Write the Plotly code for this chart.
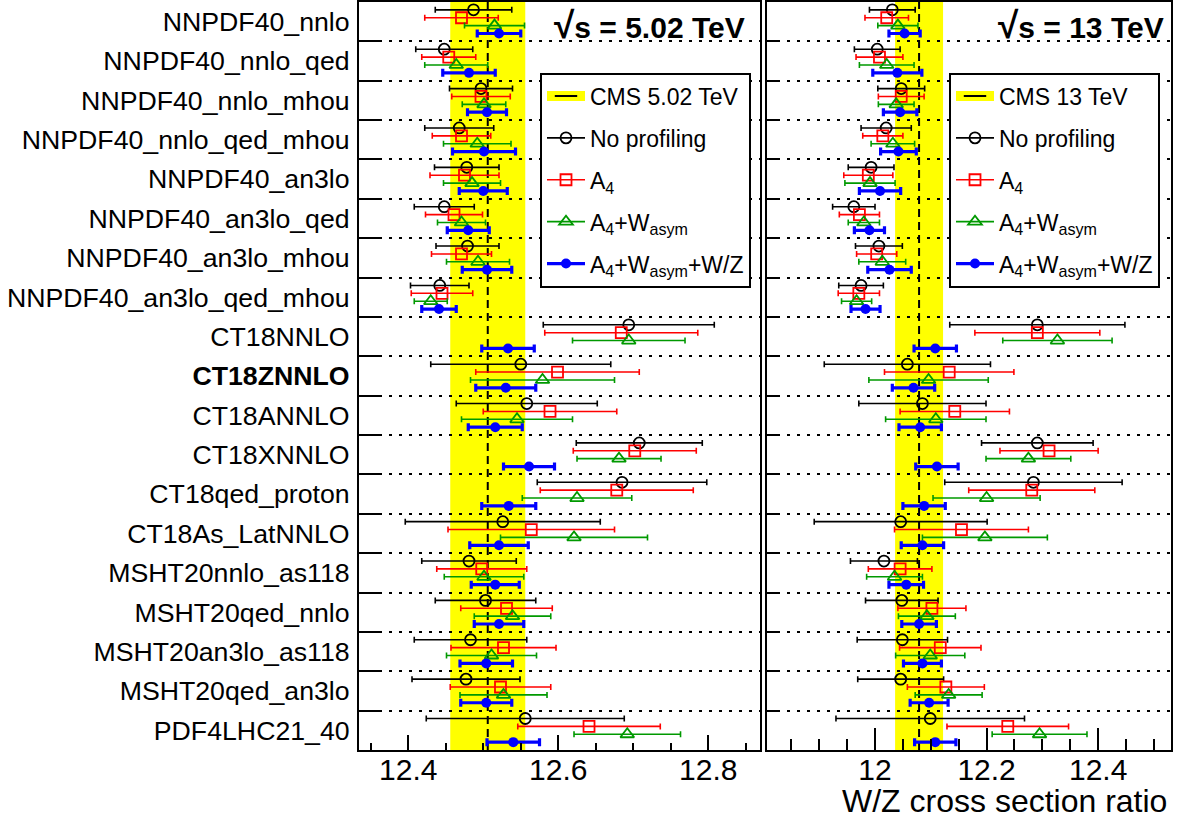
import numpy as np
import plotly.graph_objects as go

# ---------------- data ----------------
pdf_sets = ["NNPDF40_nnlo", "NNPDF40_nnlo_qed", "NNPDF40_nnlo_mhou", "NNPDF40_nnlo_qed_mhou",
            "NNPDF40_an3lo", "NNPDF40_an3lo_qed", "NNPDF40_an3lo_mhou", "NNPDF40_an3lo_qed_mhou",
            "CT18NNLO", "CT18ZNNLO", "CT18ANNLO", "CT18XNNLO", "CT18qed_proton", "CT18As_LatNNLO",
            "MSHT20nnlo_as118", "MSHT20qed_nnlo", "MSHT20an3lo_as118", "MSHT20qed_an3lo", "PDF4LHC21_40"]
bold_set = "CT18ZNNLO"

series_names = ["No profiling", "A<sub>4</sub>", "A<sub>4</sub>+W<sub>asym</sub>",
                "A<sub>4</sub>+W<sub>asym</sub>+W/Z"]

# sqrt(s) = 5.02 TeV
nopro_502 = [12.487, 12.448, 12.497, 12.468, 12.478, 12.448, 12.479, 12.442, 12.694, 12.550,
             12.558, 12.708, 12.685, 12.526, 12.481, 12.503, 12.483, 12.477, 12.556]
nopro_502_err = [0.051, 0.038, 0.042, 0.046, 0.043, 0.040, 0.042, 0.039, 0.114, 0.120,
                 0.094, 0.084, 0.113, 0.130, 0.063, 0.067, 0.075, 0.072, 0.132]
a4_502 = [12.471, 12.454, 12.497, 12.471, 12.475, 12.461, 12.471, 12.445, 12.684, 12.599,
          12.589, 12.702, 12.678, 12.564, 12.498, 12.531, 12.527, 12.523, 12.641]
a4_502_err = [0.049, 0.036, 0.039, 0.039, 0.046, 0.038, 0.040, 0.041, 0.102, 0.109,
              0.089, 0.082, 0.102, 0.111, 0.060, 0.061, 0.070, 0.067, 0.095]
a4w_502 = [12.515, 12.464, 12.501, 12.492, 12.485, 12.471, 12.493, 12.430, 12.694, 12.579,
           12.545, 12.681, 12.625, 12.621, 12.501, 12.539, 12.511, 12.527, 12.692]
a4w_502_err = [0.040, 0.042, 0.029, 0.045, 0.038, 0.032, 0.042, 0.022, 0.075, 0.096,
               0.074, 0.056, 0.073, 0.098, 0.053, 0.051, 0.060, 0.058, 0.071]
a4wz_502 = [12.521, 12.481, 12.505, 12.501, 12.500, 12.480, 12.505, 12.441, 12.533, 12.530,
            12.516, 12.561, 12.534, 12.521, 12.516, 12.521, 12.504, 12.504, 12.540]
a4wz_502_err = [0.029, 0.035, 0.026, 0.042, 0.032, 0.028, 0.033, 0.023, 0.035, 0.040,
                0.036, 0.034, 0.036, 0.039, 0.032, 0.033, 0.035, 0.034, 0.035]
cms_502, cms_502_err = 12.506, 0.050

# sqrt(s) = 13 TeV
nopro_13 = [12.031, 12.004, 12.047, 12.020, 11.993, 11.962, 12.007, 11.975, 12.291, 12.058,
            12.085, 12.291, 12.284, 12.046, 12.016, 12.048, 12.049, 12.046, 12.099]
nopro_13_err = [0.041, 0.041, 0.042, 0.045, 0.041, 0.038, 0.042, 0.040, 0.157, 0.149,
                0.114, 0.100, 0.159, 0.155, 0.060, 0.065, 0.081, 0.077, 0.169]
a4_13 = [12.021, 12.008, 12.047, 12.014, 11.988, 11.972, 12.003, 11.971, 12.291, 12.133,
         12.143, 12.312, 12.281, 12.155, 12.045, 12.102, 12.117, 12.127, 12.238]
a4_13_err = [0.039, 0.042, 0.041, 0.036, 0.044, 0.036, 0.036, 0.037, 0.112, 0.116,
             0.098, 0.088, 0.113, 0.120, 0.057, 0.061, 0.073, 0.069, 0.109]
a4w_13 = [12.041, 12.021, 12.038, 12.032, 11.991, 11.980, 12.013, 11.967, 12.327, 12.096,
          12.109, 12.275, 12.200, 12.197, 12.035, 12.093, 12.099, 12.132, 12.295]
a4w_13_err = [0.036, 0.049, 0.032, 0.039, 0.045, 0.028, 0.042, 0.027, 0.098, 0.107,
              0.090, 0.076, 0.096, 0.112, 0.050, 0.051, 0.062, 0.060, 0.085]
a4wz_13 = [12.053, 12.040, 12.045, 12.042, 12.009, 11.990, 12.026, 11.983, 12.108, 12.069,
           12.081, 12.111, 12.088, 12.085, 12.056, 12.079, 12.085, 12.097, 12.108]
a4wz_13_err = [0.028, 0.044, 0.030, 0.032, 0.037, 0.027, 0.039, 0.026, 0.038, 0.038,
               0.038, 0.038, 0.038, 0.038, 0.031, 0.031, 0.034, 0.034, 0.037]
cms_13, cms_13_err = 12.079, 0.043

# ---------------- styles ----------------
FONT = "Liberation Sans, Arial, sans-serif"
styles = [
    dict(color="#000000", symbol="circle-open", size=11, mlw=1.8, ew=1.6, cap=3, lw=1.6),
    dict(color="#ff0000", symbol="square-open", size=11, mlw=1.8, ew=1.6, cap=3, lw=1.6),
    dict(color="#009900", symbol="triangle-up-open", size=12, mlw=1.8, ew=1.6, cap=3, lw=1.6),
    dict(color="#0000ff", symbol="circle", size=10, mlw=0, ew=3.2, cap=4, lw=3.2),
]
offsets = [0.2, 0.4, 0.6, 0.8]
nrows = len(pdf_sets)
rows = np.arange(nrows)

panels = [
    dict(xa="x", ya="y", legend="legend", cms=cms_502, cms_err=cms_502_err,
         label="CMS 5.02 TeV",
         series=[(nopro_502, nopro_502_err), (a4_502, a4_502_err),
                 (a4w_502, a4w_502_err), (a4wz_502, a4wz_502_err)]),
    dict(xa="x2", ya="y2", legend="legend2", cms=cms_13, cms_err=cms_13_err,
         label="CMS 13 TeV",
         series=[(nopro_13, nopro_13_err), (a4_13, a4_13_err),
                 (a4w_13, a4w_13_err), (a4wz_13, a4wz_13_err)]),
]

fig = go.Figure()
shapes = []
for p in panels:
    # legend key for the CMS measurement: yellow box with a black dash
    fig.add_trace(go.Scatter(
        x=[None], y=[None], mode="lines+markers", name=p["label"],
        xaxis=p["xa"], yaxis=p["ya"], legend=p["legend"], legendgroup=f"{p['legend']}_cms",
        legendrank=1,
        line=dict(color="#ffff00", width=29),
        marker=dict(symbol="line-ew", size=16, color="black", line=dict(color="black", width=2)),
    ))
    for k, (vals, errs) in enumerate(p["series"]):
        st = styles[k]
        fig.add_trace(go.Scatter(
            x=vals, y=rows + offsets[k], mode="markers",
            xaxis=p["xa"], yaxis=p["ya"], showlegend=False,
            marker=dict(color=st["color"], symbol=st["symbol"], size=st["size"],
                        line=dict(color=st["color"], width=st["mlw"])),
            error_x=dict(type="data", array=errs, symmetric=True, color=st["color"],
                         thickness=st["ew"], width=st["cap"]),
        ))
        # legend-only entry (line + marker, like the original legend)
        fig.add_trace(go.Scatter(
            x=[None], y=[None], mode="lines+markers", name=series_names[k],
            xaxis=p["xa"], yaxis=p["ya"], legend=p["legend"], legendgroup=f"{p['legend']}_{k}",
            legendrank=k + 2,
            line=dict(color=st["color"], width=st["lw"]),
            marker=dict(color=st["color"], symbol=st["symbol"], size=st["size"],
                        line=dict(color=st["color"], width=st["mlw"])),
        ))
    shapes.append(dict(type="rect", xref=p["xa"], yref=f"{p['ya']} domain",
                       x0=p["cms"] - p["cms_err"], x1=p["cms"] + p["cms_err"], y0=0, y1=1,
                       fillcolor="#ffff00", line=dict(width=0), layer="below"))
    shapes.append(dict(type="line", xref=p["xa"], yref=f"{p['ya']} domain",
                       x0=p["cms"], x1=p["cms"], y0=0, y1=1, layer="below",
                       line=dict(color="black", width=2, dash="8px,5px")))

ticktext = [f"<b>{s}</b>" if s == bold_set else s for s in pdf_sets]
separators = list(range(1, nrows))

yaxis_common = dict(range=[nrows, 0], domain=[0.0898, 0.9976], showgrid=False, zeroline=False,
                    showline=True, linecolor="black", linewidth=2, mirror=True)
xaxis_common = dict(showgrid=False, zeroline=False, showline=True, linecolor="black", linewidth=2,
                    mirror=True, ticks="inside", tickwidth=2, tickcolor="black",
                    tick0=12.0, dtick=0.2, ticklabelstandoff=-8,
                    tickfont=dict(family=FONT, size=30, color="black"))

legend_common = dict(yanchor="top", xanchor="left", y=1 - 72.5 / 824,
                     bgcolor="white", bordercolor="black", borderwidth=2,
                     font=dict(family=FONT, size=23, color="black"), tracegroupgap=9,
                     itemwidth=38)

fig.update_layout(
    width=1182, height=824, margin=dict(l=0, r=0, t=0, b=0),
    paper_bgcolor="white", plot_bgcolor="white",
    font=dict(family=FONT, color="black"),
    shapes=shapes,
    xaxis=dict(**xaxis_common, domain=[0.3037, 0.6430], range=[12.3343, 12.869], anchor="y",
               ticklen=15,
               minor=dict(dtick=0.05, tick0=12.0, ticks="inside", ticklen=7, tickwidth=2,
                          tickcolor="black")),
    xaxis2=dict(**xaxis_common, domain=[0.6492, 0.9904], range=[11.807, 12.530], anchor="y2",
                ticklen=22,
                minor=dict(dtick=0.05, tick0=12.0, ticks="inside", ticklen=11, tickwidth=2,
                           tickcolor="black")),
    yaxis=dict(**yaxis_common, anchor="x", tickmode="array", tickvals=list(rows + 0.5),
               ticktext=ticktext, ticks="", ticklabelstandoff=2,
               tickfont=dict(family=FONT, size=26.7, color="black"),
               minor=dict(tickmode="array", tickvals=separators, ticks="inside", ticklen=20,
                          tickwidth=2, tickcolor="black", showgrid=True, gridcolor="black",
                          gridwidth=2, griddash="3px,7px")),
    yaxis2=dict(**yaxis_common, anchor="x2", tickmode="array", tickvals=list(rows + 0.5),
                showticklabels=False, ticks="",
                minor=dict(tickmode="array", tickvals=separators, ticks="inside", ticklen=12,
                           tickwidth=2, tickcolor="black", showgrid=True, gridcolor="black",
                           gridwidth=2, griddash="3px,7px")),
    legend=dict(**legend_common, x=540 / 1182),
    legend2=dict(**legend_common, x=949 / 1182),
    annotations=[
        dict(text="<b><span style='font-size:37px'>√</span>s = 5.02 TeV</b>", xref="paper",
             yref="paper", x=747 / 1182, y=1 - 26 / 824,
             xanchor="right", yanchor="middle", showarrow=False,
             font=dict(family=FONT, size=30, color="black")),
        dict(text="<b><span style='font-size:37px'>√</span>s = 13 TeV</b>", xref="paper",
             yref="paper", x=1166 / 1182, y=1 - 26 / 824,
             xanchor="right", yanchor="middle", showarrow=False,
             font=dict(family=FONT, size=30, color="black")),
        dict(text="W/Z cross section ratio", xref="paper", yref="paper", x=1169 / 1182,
             y=1 - 801 / 824, xanchor="right", yanchor="middle", showarrow=False,
             font=dict(family=FONT, size=32, color="black")),
    ],
)

fig.write_html("out.html")
